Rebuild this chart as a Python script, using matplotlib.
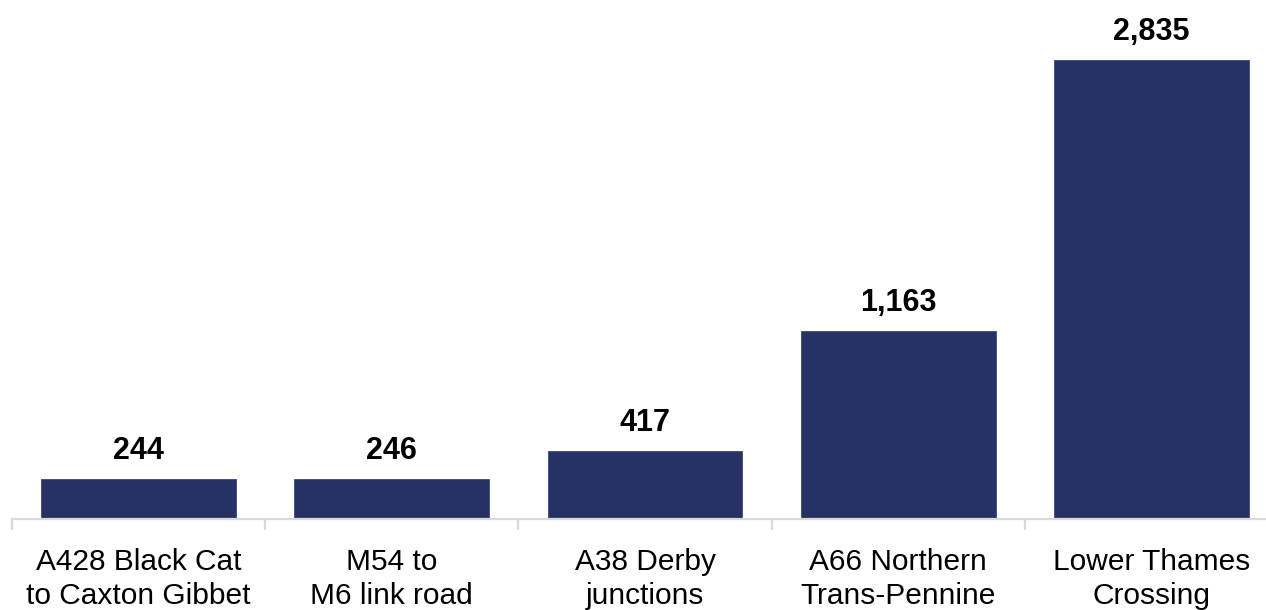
import numpy as np
import matplotlib
matplotlib.use("Agg")
import matplotlib.pyplot as plt

plt.rcParams["font.family"] = ["Liberation Sans", "DejaVu Sans"]

# road schemes and values
SCHEMES = [
    "A428 Black Cat\nto Caxton Gibbet",
    "M54 to\nM6 link road",
    "A38 Derby\njunctions",
    "A66 Northern\nTrans-Pennine",
    "Lower Thames\nCrossing",
]
VALUES = [244, 246, 417, 1163, 2835]

BAR_COLOR  = "#263264"
AXIS_COLOR = "#d9d9d9"

W, H, DPI = 1266, 610, 100
fig = plt.figure(figsize=(W / DPI, H / DPI), dpi=DPI)

# axes run a little past the right edge, as in the cropped original
left_px, right_px, base_px = 12, 1278, 519
ax = fig.add_axes([left_px / W, (H - base_px) / H,
                   (right_px - left_px) / W, base_px / H])

x = np.arange(len(VALUES))
bars = ax.bar(x, VALUES, width=0.77, color=BAR_COLOR, edgecolor="#3c4878",
              linewidth=0.6, zorder=2)

ax.set_xlim(-0.5, len(VALUES) - 0.5)
ax.set_ylim(0, 3203)

for xi, v in zip(x, VALUES):
    ax.annotate(f"{v:,}", (xi, v), xytext=(0, 14.4), textcoords="offset points",
                ha="center", va="baseline", fontsize=22, fontweight="bold",
                color="black")

for s in ["top", "right", "left"]:
    ax.spines[s].set_visible(False)
ax.spines["bottom"].set_color(AXIS_COLOR)
ax.spines["bottom"].set_linewidth(1.6)
ax.spines["bottom"].set_zorder(3)

ax.set_yticks([])
ax.set_xticks(x)
ax.set_xticklabels(SCHEMES, fontsize=21.5, linespacing=1.26)
ax.tick_params(axis="x", which="major", length=0, pad=21)
ax.set_xticks(np.arange(len(VALUES) + 1) - 0.5, minor=True)
ax.tick_params(axis="x", which="minor", length=8, width=1.6, color=AXIS_COLOR)

fig.savefig("out.png", dpi=DPI)
plt.close(fig)
